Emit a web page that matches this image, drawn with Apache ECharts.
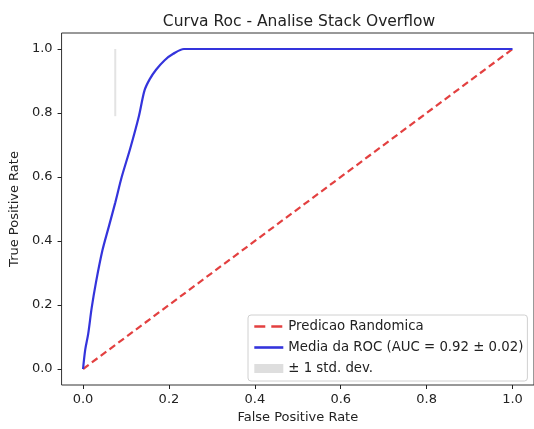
<!DOCTYPE html>
<html>
<head>
<meta charset="utf-8">
<script src="https://cdn.jsdelivr.net/npm/echarts@6/dist/echarts.min.js"></script>
<style>
html,body{margin:0;padding:0;background:#fff;}
#chart{width:534px;height:429px;}
</style>
</head>
<body>
<div id="chart"></div>
<script>
const titleText = "Curva Roc - Analise Stack Overflow";
const xAxisName = "False Positive Rate";
const yAxisName = "True Positive Rate";
const tickValues = [0, 0.2, 0.4, 0.6, 0.8, 1.0];

const randomName = "Predicao Randomica";
const randomX = [0, 1];
const randomY = [0, 1];

const meanName = "Media da ROC (AUC = 0.92 \u00b1 0.02)";
const meanX = [0, 0.005, 0.012, 0.02, 0.03, 0.045, 0.06, 0.075, 0.09, 0.11, 0.13, 0.143, 0.155, 0.17, 0.19, 0.21, 0.235, 1.0];
const meanY = [0, 0.06, 0.11, 0.19, 0.27, 0.37, 0.445, 0.52, 0.60, 0.69, 0.79, 0.87, 0.905, 0.935, 0.965, 0.985, 1.0, 1.0];

const stdName = "\u00b1 1 std. dev.";
const stdX = [0.075, 0.075];
const stdY = [0.79, 1.0];

const zip = (xs, ys) => xs.map((x, i) => [x, ys[i]]);
const FONT = "DejaVu Sans";

const chart = echarts.init(document.getElementById('chart'), null, {renderer: 'canvas'});
const axisCommon = {
  type: 'value',
  min: -0.05,
  max: 1.05,
  axisLine: {show: false, onZero: false},
  splitLine: {show: false},
  axisTick: {show: true, inside: false, customValues: tickValues, length: 4, lineStyle: {color: '#222', width: 1}},
  axisLabel: {show: true, customValues: tickValues, color: '#222', fontFamily: FONT, fontSize: 13,
    formatter: v => v.toFixed(1)},
  nameTextStyle: {color: '#222', fontFamily: FONT, fontSize: 13},
  nameLocation: 'middle'
};
chart.setOption({
  animation: false,
  backgroundColor: '#fff',
  title: {
    text: titleText, left: 294, top: 9, textAlign: 'center',
    textStyle: {fontFamily: FONT, fontSize: 15.5, fontWeight: 'normal', color: '#222'}
  },
  grid: {left: 61, top: 33, width: 478, height: 355, show: true, borderColor: '#333', borderWidth: 1, backgroundColor: '#fff'},
  xAxis: Object.assign({}, axisCommon, {name: xAxisName, nameGap: 26,
    axisLabel: Object.assign({}, axisCommon.axisLabel, {margin: 8})}),
  yAxis: Object.assign({}, axisCommon, {name: yAxisName, nameGap: 36,
    axisLabel: Object.assign({}, axisCommon.axisLabel, {margin: 9})}),
  legend: {
    orient: 'vertical', left: 248, top: 315, icon: 'inherit',
    backgroundColor: '#fff', borderColor: '#d0d0d0', borderWidth: 1, borderRadius: 3,
    padding: [4, 4, 5, 5], itemWidth: 29, itemHeight: 9, itemGap: 6,
    textStyle: {fontFamily: FONT, fontSize: 13.3, color: '#222', lineHeight: 15},
    data: [
      {name: randomName, itemStyle: {opacity: 0}, lineStyle: {type: [11, 6], width: 2.6}},
      {name: meanName, itemStyle: {opacity: 0}, lineStyle: {width: 2.6}},
      {name: stdName, icon: 'rect', itemStyle: {color: '#dedede'}}
    ]
  },
  series: [
    {name: stdName, type: 'line', data: zip(stdX, stdY), showSymbol: false, symbol: 'none',
      lineStyle: {color: '#e3e3e3', width: 2}, itemStyle: {color: '#dedede'}, z: 1},
    {name: randomName, type: 'line', data: zip(randomX, randomY), showSymbol: false, symbol: 'none',
      lineStyle: {color: '#e34040', width: 2.2, type: [7, 4]}, itemStyle: {color: '#e34040'}, z: 2},
    {name: meanName, type: 'line', data: zip(meanX, meanY), showSymbol: false, symbol: 'none', smooth: 0.3,
      lineStyle: {color: '#3434dc', width: 2.2}, itemStyle: {color: '#3434dc'}, z: 3}
  ]
});
</script>
</body>
</html>
